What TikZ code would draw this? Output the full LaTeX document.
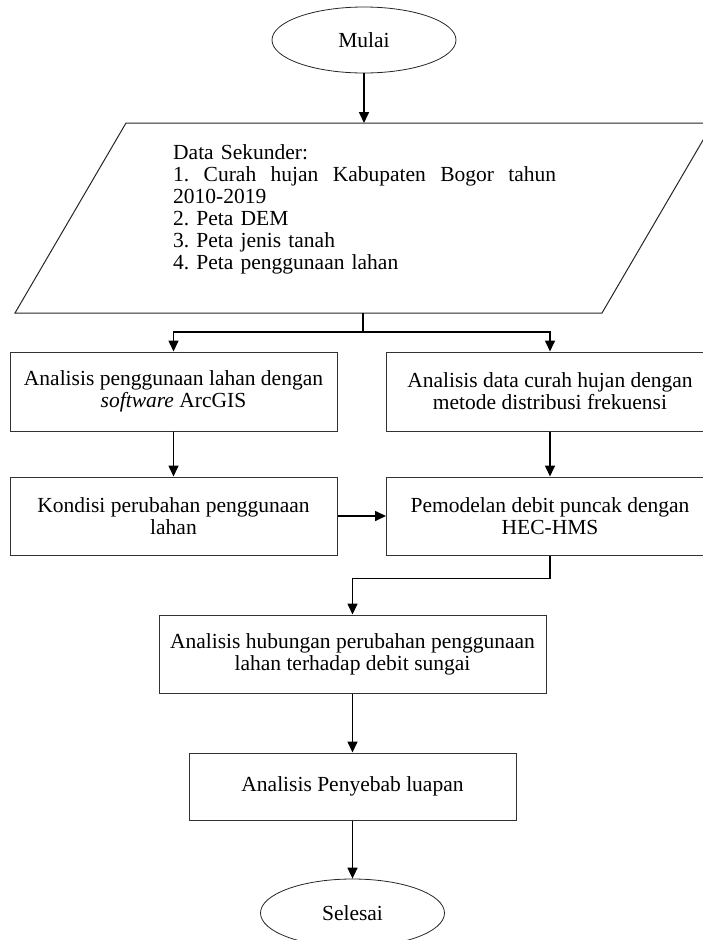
\documentclass[tikz,border=0pt]{standalone}
\usepackage{fontspec}
\setmainfont{Liberation Serif}
\usetikzlibrary{arrows.meta,shapes.geometric}
\frenchspacing

\tikzset{
	kotak/.style={draw=black!80, line width=1pt, rectangle, minimum width=327pt, minimum height=79pt, align=center, inner sep=2pt},
	oval/.style={draw=black!85, line width=0.8pt, ellipse, minimum width=184pt, minimum height=66pt, inner sep=0pt},
	panah/.style={->, line width=1.6pt}
}

\begin{document}
\begin{tikzpicture}[x=1pt, y=-1pt, font=\fontsize{21.5}{22}\selectfont, line join=miter, >={Triangle[length=11pt,width=10pt]}]
		\useasboundingbox (0,0) rectangle (703,940);
		\node[oval] (mulai) at (364,40) {Mulai};
		\draw[draw=black!85, line width=1pt] (126,123) -- (713,123) -- (602,313) -- (15,313) -- cycle;
		\coordinate (datatop) at (364,123);
		\coordinate (databot) at (363,313);
		\node[anchor=north west, text width=383pt, align=left, inner sep=0pt] (data) at (173,144)
		{Data Sekunder:\\ \leavevmode\hbox to 383pt{1.\hfil\ Curah\hfil\ hujan\hfil\ Kabupaten\hfil\ Bogor\hfil\ tahun}\\ 2010-2019\\ 2. Peta DEM\\ 3. Peta jenis tanah\\ 4. Peta penggunaan lahan};
		\node[kotak] (lahan) at (173.5,391.5) {Analisis penggunaan lahan dengan\\ \textit{software} ArcGIS};
		\node[kotak] (curah) at (550,391.5) {Analisis data curah hujan dengan\\ metode distribusi frekuensi};
		\node[kotak, minimum height=78pt] (kondisi) at (173.5,516) {Kondisi perubahan penggunaan\\ lahan};
		\node[kotak, minimum height=78pt] (debit) at (550,516) {Pemodelan debit puncak dengan\\ HEC-HMS};
		\node[kotak, minimum width=387pt, minimum height=78pt] (hubungan) at (352.5,654) {Analisis hubungan perubahan penggunaan\\ lahan terhadap debit sungai};
		\node[kotak, minimum height=67pt] (luapan) at (352.5,786.5) {Analisis Penyebab luapan};
		\node[oval, minimum height=68pt] (selesai) at (352.5,913) {Selesai};
		\draw[panah] (mulai) -- (datatop);
		\draw[line width=1.6pt] (databot) -- ++(0,19) coordinate (cabang);
		\draw[panah] (cabang) -| (lahan);
		\draw[panah] (cabang) -| (curah);
		\draw[panah] (lahan) -- (kondisi);
		\draw[panah] (curah) -- (debit);
		\draw[panah] (kondisi) -- (debit);
		\draw[panah] (debit.south) -- ++(0,23) -| (hubungan.north);
		\draw[panah] (hubungan) -- (luapan);
		\draw[panah] (luapan) -- (selesai);
\end{tikzpicture}
\end{document}
